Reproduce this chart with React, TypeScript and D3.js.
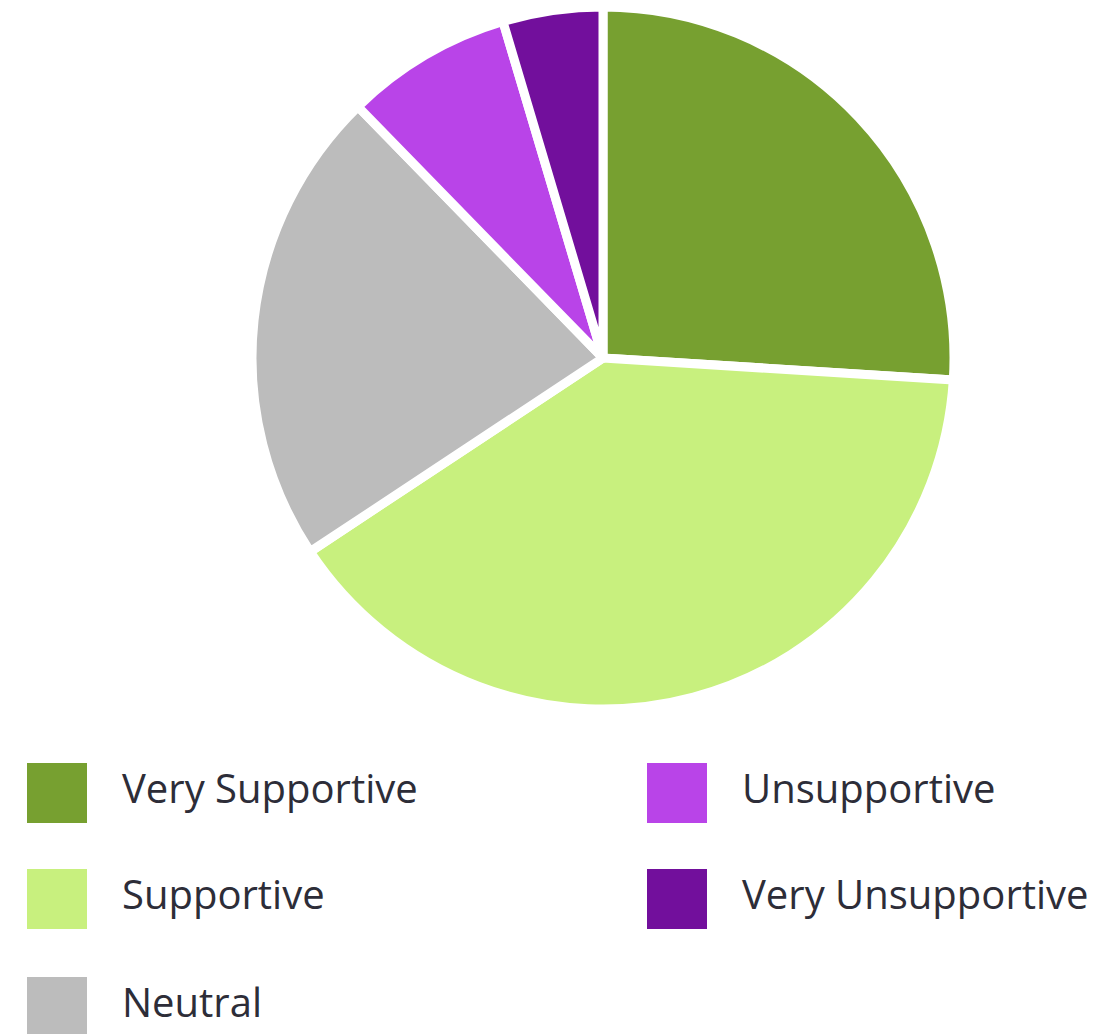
import React, { useEffect, useRef } from 'react';
import * as d3 from 'd3';

const categories = ['Very Supportive', 'Supportive', 'Neutral', 'Unsupportive', 'Very Unsupportive'];
const values = [26.0, 39.7, 22.0, 7.7, 4.6];
const colors = ['#77a030', '#c8f07e', '#bcbcbc', '#b944e8', '#720f9c'];

const App: React.FC = () => {
  const svgRef = useRef<SVGSVGElement>(null);

  useEffect(() => {
    if (!svgRef.current) return;
    const width = 1108;
    const height = 1034;
    const cx = 603;
    const cy = 358;
    const radius = 351;

    const svg = d3.select(svgRef.current);
    svg.selectAll('*').remove();

    const color = d3.scaleOrdinal<string, string>().domain(categories).range(colors);

    const pie = d3.pie<number>().sort(null).value(d => d);
    const arc = d3.arc<d3.PieArcDatum<number>>().innerRadius(0).outerRadius(radius);

    const g = svg.append('g').attr('transform', `translate(${cx}, ${cy})`);
    g.selectAll('path')
      .data(pie(values))
      .enter()
      .append('path')
      .attr('d', arc)
      .attr('fill', (_d, i) => color(categories[i]))
      .attr('stroke', '#ffffff')
      .attr('stroke-width', 9)
      .attr('stroke-linejoin', 'round');

    // legend: two columns, three rows
    const colX = [27, 647];
    const rowY = [763, 869, 977];
    const legend = svg.append('g');
    categories.forEach((c, i) => {
      const col = i < 3 ? 0 : 1;
      const row = i < 3 ? i : i - 3;
      const x = colX[col];
      const y = rowY[row];
      legend.append('rect')
        .attr('x', x)
        .attr('y', y)
        .attr('width', 60)
        .attr('height', 60)
        .attr('fill', color(c));
      legend.append('text')
        .attr('x', x + 95)
        .attr('y', y + 40)
        .attr('fill', '#2d2d38')
        .attr('font-family', '"Open Sans", sans-serif')
        .attr('font-size', '40px')
        .text(c);
    });

    svg.attr('width', width).attr('height', height);
  }, []);

  return (
    <svg
      ref={svgRef}
      width={1108}
      height={1034}
      style={{ position: 'absolute', left: 0, top: 0, background: '#ffffff' }}
    ></svg>
  );
};

export default App;
